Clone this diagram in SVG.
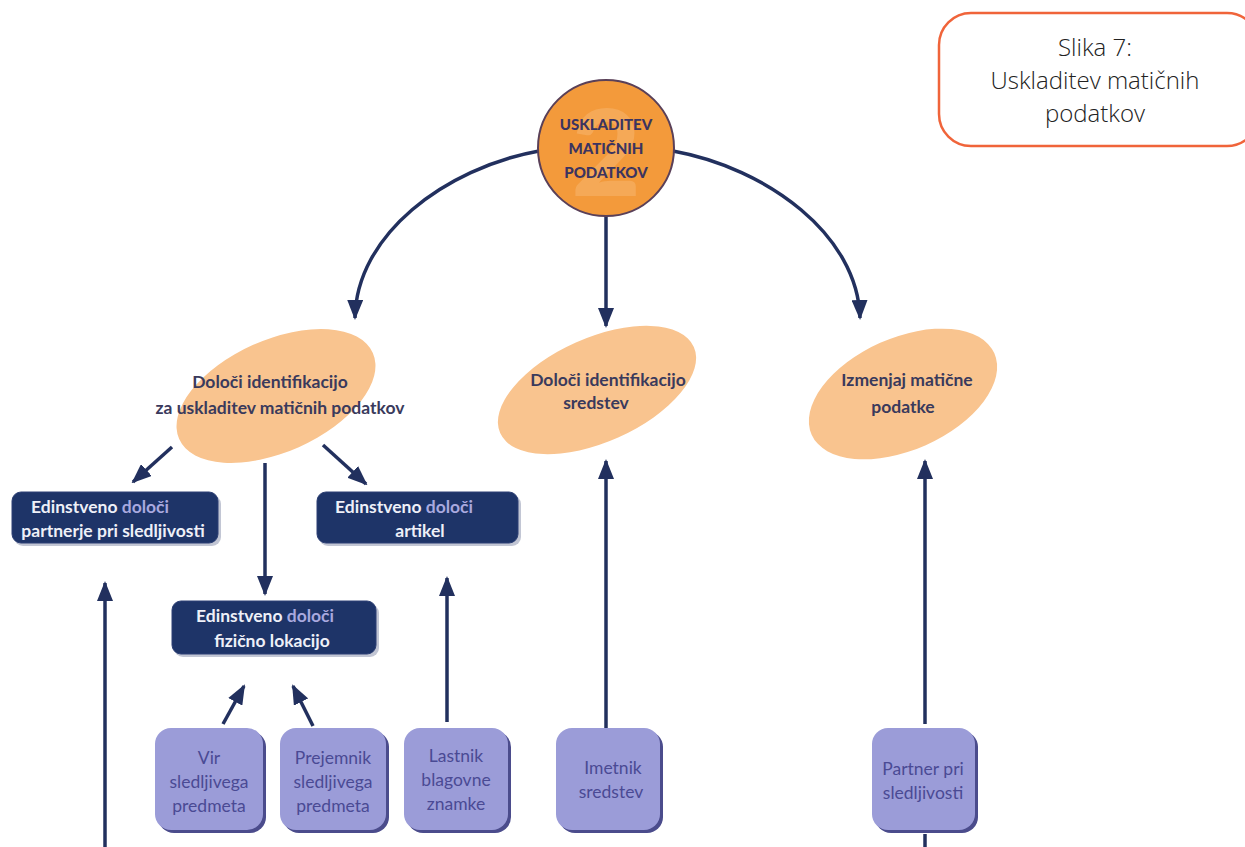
<svg xmlns="http://www.w3.org/2000/svg" width="1245" height="847" viewBox="0 0 1245 847">
<defs>
<marker id="ah" viewBox="0 0 20 16" refX="18" refY="8" markerWidth="20" markerHeight="16" markerUnits="userSpaceOnUse" orient="auto">
<path d="M0,0 L20,8 L0,16 Z" fill="#22305e"/>
</marker>
<style>
.c{fill:none;stroke:#22305e;stroke-width:3.5}
.ell{fill:#f9c48f}
.et{font-family:Lato,"Open Sans",sans-serif;font-weight:bold;font-size:17.5px;fill:#3a3a5c;text-anchor:middle}
.db{fill:#1e3468;stroke:#2c3f74;stroke-width:1}
.dbs{fill:#9aa0b8;opacity:0.6}
.dt{font-family:Lato,"Open Sans",sans-serif;font-weight:bold;font-size:17.5px;fill:#eef0f8;text-anchor:middle}
.dl{fill:#a9a9df}
.pb{fill:#9b9cd8}
.pbs{fill:#4b4c8c}
.pt{font-family:Lato,"Open Sans",sans-serif;font-size:17.5px;fill:#4a4a94;text-anchor:middle}
.ct{font-family:Lato,"Open Sans",sans-serif;font-weight:900;font-size:15px;fill:#3b3460;text-anchor:middle}
.tt{font-family:"Open Sans",sans-serif;font-weight:300;font-size:24px;fill:#222;text-anchor:middle}
</style>
</defs>
<rect width="1245" height="847" fill="#ffffff"/>

<g id="title">
<rect x="939" y="13" width="320" height="133" rx="32" fill="#fff" stroke="#f0643a" stroke-width="2.5"/>
<text class="tt" x="1095" y="56">Slika 7:</text>
<text class="tt" x="1095" y="89">Uskladitev matičnih</text>
<text class="tt" x="1095" y="122">podatkov</text>
</g>

<g id="connectors">
<path class="c" d="M539,151 C445,168 356,235 355,318" marker-end="url(#ah)"/>
<path class="c" d="M606,216 L606,326" marker-end="url(#ah)"/>
<path class="c" d="M673,151 C767,168 858,235 860,318" marker-end="url(#ah)"/>
<path class="c" d="M172,447 L133,482" marker-end="url(#ah)"/>
<path class="c" d="M323,445 L366,484" marker-end="url(#ah)"/>
<path class="c" d="M265,463 L265,594" marker-end="url(#ah)"/>
<path class="c" d="M105,847 L105,583" marker-end="url(#ah)"/>
<path class="c" d="M447,722 L447,578" marker-end="url(#ah)"/>
<path class="c" d="M606,728 L606,461" marker-end="url(#ah)"/>
<path class="c" d="M925,724 L925,461" marker-end="url(#ah)"/>
<path class="c" d="M925,834 L925,847"/>
<path class="c" d="M223,724 L244,686" marker-end="url(#ah)"/>
<path class="c" d="M313,726 L293,686" marker-end="url(#ah)"/>
</g>

<g id="center">
<circle cx="606" cy="148" r="68" fill="#f39a3b" stroke="#5a4058" stroke-width="2"/>
<text x="606" y="196" text-anchor="middle" font-family="Lato,sans-serif" font-weight="900" font-size="120" fill="#f6ad5e" opacity="0.8">2</text>
<text class="ct" x="606" y="130">USKLADITEV</text>
<text class="ct" x="606" y="154">MATIČNIH</text>
<text class="ct" x="606" y="178">PODATKOV</text>
</g>

<g id="e1">
<ellipse class="ell" cx="276" cy="396" rx="106" ry="56" transform="rotate(-24 276 396)"/>
<text class="et" x="270" y="388">Določi identifikacijo</text>
<text class="et" x="280" y="414">za uskladitev matičnih podatkov</text>
</g>
<g id="e2">
<ellipse class="ell" cx="597" cy="390" rx="106" ry="52" transform="rotate(-24 597 390)"/>
<text class="et" x="608" y="386">Določi identifikacijo</text>
<text class="et" x="596" y="409">sredstev</text>
</g>
<g id="e3">
<ellipse class="ell" cx="903" cy="394" rx="100" ry="56" transform="rotate(-24 903 394)"/>
<text class="et" x="907" y="386">Izmenjaj matične</text>
<text class="et" x="903" y="413">podatke</text>
</g>

<g id="b1">
<rect class="dbs" x="14" y="495" width="207" height="51" rx="9"/>
<rect class="db" x="12" y="492" width="206" height="51" rx="9"/>
<text class="dt" x="100" y="513">Edinstveno <tspan class="dl">določi</tspan></text>
<text class="dt" x="113" y="537">partnerje pri sledljivosti</text>
</g>
<g id="b2">
<rect class="dbs" x="319" y="495" width="202" height="51" rx="9"/>
<rect class="db" x="317" y="492" width="201" height="51" rx="9"/>
<text class="dt" x="404" y="513">Edinstveno <tspan class="dl">določi</tspan></text>
<text class="dt" x="420" y="537">artikel</text>
</g>
<g id="b3">
<rect class="dbs" x="174" y="604" width="205" height="53" rx="9"/>
<rect class="db" x="172" y="601" width="204" height="53" rx="9"/>
<text class="dt" x="265" y="622">Edinstveno <tspan class="dl">določi</tspan></text>
<text class="dt" x="272" y="647">fizično lokacijo</text>
</g>

<g id="p1">
<rect class="pbs" x="158" y="731" width="108" height="102" rx="16"/>
<rect class="pb" x="155" y="728" width="108" height="102" rx="16"/>
<text class="pt" x="209" y="764">Vir</text>
<text class="pt" x="209" y="788">sledljivega</text>
<text class="pt" x="209" y="812">predmeta</text>
</g>
<g id="p2">
<rect class="pbs" x="283" y="731" width="106" height="102" rx="16"/>
<rect class="pb" x="280" y="728" width="106" height="102" rx="16"/>
<text class="pt" x="333" y="764">Prejemnik</text>
<text class="pt" x="333" y="788">sledljivega</text>
<text class="pt" x="333" y="812">predmeta</text>
</g>
<g id="p3">
<rect class="pbs" x="407" y="731" width="104" height="102" rx="16"/>
<rect class="pb" x="404" y="728" width="104" height="102" rx="16"/>
<text class="pt" x="456" y="762">Lastnik</text>
<text class="pt" x="456" y="786">blagovne</text>
<text class="pt" x="456" y="810">znamke</text>
</g>
<g id="p4">
<rect class="pbs" x="559" y="731" width="104" height="102" rx="16"/>
<rect class="pb" x="556" y="728" width="104" height="102" rx="16"/>
<text class="pt" x="613" y="774">Imetnik</text>
<text class="pt" x="611" y="798">sredstev</text>
</g>
<g id="p5">
<rect class="pbs" x="875" y="731" width="103" height="102" rx="16"/>
<rect class="pb" x="872" y="728" width="103" height="102" rx="16"/>
<text class="pt" x="923" y="775">Partner pri</text>
<text class="pt" x="923" y="799">sledljivosti</text>
</g>
</svg>
